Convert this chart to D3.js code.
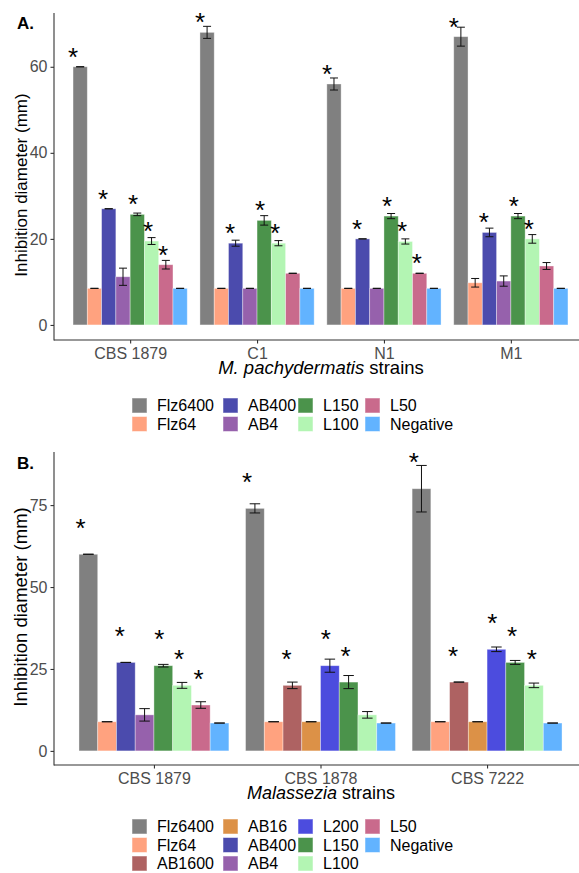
<!DOCTYPE html>
<html>
<head>
<meta charset="utf-8">
<script src="https://cdn.jsdelivr.net/npm/d3@7"></script>
<style>
  body { margin: 0; background: #fff; }
  svg { font-family: "Liberation Sans", Arial, sans-serif; }
</style>
</head>
<body>
<div id="chart"></div>
<script>
// ---- data ----
const strainsA = ["CBS 1879", "C1", "N1", "M1"]
const treatmentsA = ["Flz6400", "Flz64", "AB400", "AB4", "L150", "L100", "L50", "Negative"]
const meansA = [
  [60, 8.5, 27, 11.2, 25.7, 19.5, 14, 8.5],
  [68, 8.5, 19, 8.5, 24.3, 19, 12, 8.5],
  [56, 8.5, 20, 8.5, 25.3, 19.4, 12, 8.5],
  [67, 9.8, 21.5, 10.2, 25.3, 20, 13.7, 8.5]
]
const errsA = [
  [0, 0, 0, 2, 0.3, 0.8, 1, 0],
  [1.4, 0, 0.7, 0, 1.1, 0.6, 0, 0],
  [1.4, 0, 0, 0, 0.6, 0.6, 0, 0],
  [2.2, 1, 1, 1.2, 0.6, 1, 0.8, 0]
]
const starsA = [
  [1, 0, 1, 0, 1, 1, 1, 0],
  [1, 0, 1, 0, 1, 1, 0, 0],
  [1, 0, 1, 0, 1, 1, 1, 0],
  [1, 0, 1, 0, 1, 1, 0, 0]
]
const legendA = ["Flz6400", "Flz64", "AB400", "AB4", "L150", "L100", "L50", "Negative"]

const strainsB = ["CBS 1879", "CBS 1878", "CBS 7222"]
const treatmentsB = [
  ["Flz6400", "Flz64", "AB400", "AB4", "L150", "L100", "L50", "Negative"],
  ["Flz6400", "Flz64", "AB1600", "AB16", "L200", "L150", "L100", "Negative"],
  ["Flz6400", "Flz64", "AB1600", "AB16", "L200", "L150", "L100", "Negative"]
]
const meansB = [
  [60, 8.9, 27, 11, 26, 20, 14, 8.5],
  [74, 8.9, 20, 8.9, 26, 21, 11, 8.5],
  [80, 8.9, 21, 8.9, 31, 27, 20, 8.5]
]
const errsB = [
  [0, 0, 0, 1.9, 0.4, 0.9, 1, 0],
  [1.4, 0, 1, 0, 2, 2, 1, 0],
  [7.1, 0, 0, 0, 0.7, 0.6, 0.7, 0]
]
const starsB = [
  [1, 0, 1, 0, 1, 1, 1, 0],
  [1, 0, 1, 0, 1, 1, 0, 0],
  [1, 0, 1, 0, 1, 1, 1, 0]
]
const legendB = ["Flz6400", "Flz64", "AB1600", "AB16", "AB400", "AB4", "L200", "L150", "L100", "L50", "Negative"]

const colors = {
  Flz6400: "#808080", Flz64: "#FFA27F", AB1600: "#AE6262", AB16: "#DC9147",
  AB400: "#4B4BAD", AB4: "#9661AC", L200: "#4C4CDE", L150: "#4B934B",
  L100: "#B3F5B3", L50: "#C96A8C", Negative: "#62B3FF"
}

// ---- layout ----
const width = 579, height = 873
const svg = d3.select("#chart").append("svg")
  .attr("width", width).attr("height", height)

function panel(opt) {
  const g = svg.append("g")
  const x = d3.scalePoint().domain(opt.strains).range([54, 587]).padding(0.6)
  const step = x.step()
  const bw = step * 0.9 / 8
  const y = d3.scaleLinear().domain(opt.ydomain).range([opt.bottom, opt.top])

  // bars
  opt.strains.forEach((s, i) => {
    const trts = opt.treatments[i]
    const rows = trts.map((t, j) => ({
      t: t, v: opt.means[i][j], e: opt.errs[i][j], star: opt.stars[i][j],
      off: (j - 3.5) * bw
    }))
    const gg = g.append("g")
    gg.selectAll("rect").data(rows).join("rect")
      .attr("x", d => x(s) + d.off - bw / 2)
      .attr("width", bw)
      .attr("y", d => y(d.v))
      .attr("height", d => y(0) - y(d.v))
      .attr("fill", d => colors[d.t])
      .attr("stroke", "#fff").attr("stroke-opacity", 0.45).attr("stroke-width", 0.8)

    // error bars
    const cap = bw * 0.28
    const eb = gg.selectAll("g.err").data(rows).join("g").attr("class", "err")
      .attr("stroke", "#111").attr("stroke-width", 1)
    eb.append("line")
      .attr("x1", d => x(s) + d.off).attr("x2", d => x(s) + d.off)
      .attr("y1", d => y(d.v - d.e)).attr("y2", d => y(d.v + d.e))
    eb.append("line")
      .attr("x1", d => x(s) + d.off - cap).attr("x2", d => x(s) + d.off + cap)
      .attr("y1", d => y(d.v + d.e)).attr("y2", d => y(d.v + d.e))
    eb.append("line")
      .attr("x1", d => x(s) + d.off - cap).attr("x2", d => x(s) + d.off + cap)
      .attr("y1", d => y(d.v - d.e)).attr("y2", d => y(d.v - d.e))

    // significance stars
    const fs = 26
    gg.selectAll("text.star").data(rows.filter(d => d.star)).join("text")
      .attr("class", "star")
      .attr("x", d => x(s) + d.off * 1.05 - 4.5)
      .attr("y", d => y(d.v + opt.starGap) + 0.59 * fs)
      .attr("text-anchor", "middle")
      .attr("font-size", fs)
      .attr("fill", "#000")
      .text("*")
  })

  // axes
  const yAxis = g.append("g").attr("transform", "translate(54,0)")
    .call(d3.axisLeft(y).tickValues(opt.yticks).tickSize(3.5).tickPadding(3))
  const xAxis = g.append("g").attr("transform", `translate(0,${opt.axisY})`)
    .call(d3.axisBottom(x).tickSize(3.5).tickPadding(4))
  ;[yAxis, xAxis].forEach(a => {
    a.select(".domain").remove()
    a.selectAll(".tick line").attr("stroke", "#333").attr("stroke-width", 1.1)
    a.selectAll(".tick text").attr("fill", "#4d4d4d").attr("font-size", 16)
      .attr("font-family", "Liberation Sans, Arial, sans-serif")
  })
  g.append("line").attr("x1", 54).attr("x2", 54).attr("y1", opt.top).attr("y2", opt.axisY + 0.5)
    .attr("stroke", "#333").attr("stroke-width", 1.1)
  g.append("line").attr("x1", 54).attr("x2", 587).attr("y1", opt.axisY).attr("y2", opt.axisY)
    .attr("stroke", "#333").attr("stroke-width", 1.1)

  // y title
  g.append("text")
    .attr("transform", `translate(27,${opt.ytitleY}) rotate(-90)`)
    .attr("text-anchor", "middle").attr("font-size", opt.ytitleFs).attr("fill", "#000")
    .text("Inhibition diameter (mm)")

  // x title
  const xt = g.append("text").attr("x", 321).attr("y", opt.xtitleY)
    .attr("text-anchor", "middle").attr("font-size", opt.xtitleFs).attr("fill", "#000")
  xt.append("tspan").attr("font-style", "italic").text(opt.italic)
  xt.append("tspan").text(" strains")

  // panel tag
  g.append("text").attr("x", 17).attr("y", opt.tagY)
    .attr("font-size", 17).attr("font-weight", "bold").attr("fill", "#000")
    .text(opt.tag)

  // legend
  const colX = [132, 223, 298, 365]
  const leg = g.append("g")
  opt.legend.forEach((t, k) => {
    const c = Math.floor(k / opt.legRows), r = k % opt.legRows
    const ky = opt.legTop + r * 18.5
    leg.append("rect").attr("x", colX[c]).attr("y", ky)
      .attr("width", 15).attr("height", 15)
      .attr("fill", colors[t]).attr("stroke", "#fff").attr("stroke-opacity", 0.5)
    leg.append("text").attr("x", colX[c] + 25).attr("y", ky + 7.5 + 5.7)
      .attr("font-size", 16).attr("fill", "#000").text(t)
  })
}

panel({
  strains: strainsA, treatments: strainsA.map(() => treatmentsA),
  means: meansA, errs: errsA, stars: starsA, starGap: 3.8,
  ydomain: [-3.5, 72.5], top: 13, bottom: 340, axisY: 340,
  yticks: [0, 20, 40, 60], ytitleY: 185, ytitleFs: 17,
  xtitleY: 374, xtitleFs: 18.5, tagY: 29, tag: "A.",
  italic: "M. pachydermatis", legend: legendA, legRows: 2, legTop: 398
})

panel({
  strains: strainsB, treatments: treatmentsB,
  means: meansB, errs: errsB, stars: starsB, starGap: 10,
  ydomain: [-4.3, 91.2], top: 452, bottom: 765, axisY: 765,
  yticks: [0, 25, 50, 75], ytitleY: 607, ytitleFs: 18.5,
  xtitleY: 799, xtitleFs: 18, tagY: 469, tag: "B.",
  italic: "Malassezia", legend: legendB, legRows: 3, legTop: 819
})
</script>
</body>
</html>
